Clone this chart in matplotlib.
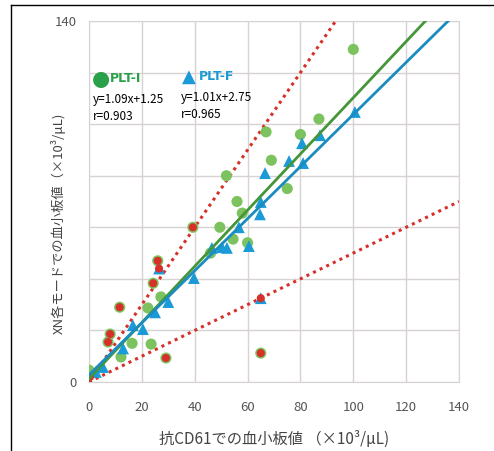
import numpy as np
import matplotlib.pyplot as plt
from matplotlib.lines import Line2D

plt.rcParams['font.family'] = ['Noto Sans CJK JP', 'DejaVu Sans']

# PLT-I (green circles)
plt_i_x = [100, 87, 80, 67, 69, 75, 52, 56, 58, 49.5, 54.5, 60, 46, 39.3, 26, 27.2, 11.6, 22.3,
           16.3, 23.5, 8, 7.2, 12.1, 29.1, 0, 65, 24.3]
plt_i_y = [129, 102, 96, 97, 86, 75, 80, 70, 65.5, 60, 55.4, 54, 50, 60, 47, 33, 29, 28.7,
           15, 14.7, 18.6, 15.5, 9.7, 9.3, 4.6, 11.2, 38.3]

# PLT-F (blue triangles)
plt_f_x = [100.6, 87.4, 80.6, 75.7, 81, 66.6, 65, 64.7, 56.7, 60.5, 52.2, 50.3, 46.5, 39.7,
           30, 25, 20.4, 16.6, 12.9, 2.6, 5.3, 26.5, 65]
plt_f_y = [104.7, 95.7, 92.6, 85.7, 84.9, 81, 69.8, 65, 60, 52.7, 52, 52.3, 52, 40.3,
           31, 27, 20.5, 22, 13, 3.9, 5.8, 44, 32.5]

# discordant samples (red centres)
red_x = [39.3, 26, 24.3, 11.6, 8, 7.2, 29.1, 65, 0.4, 26.5, 65]
red_y = [60, 47, 38.3, 29, 18.6, 15.5, 9.3, 11.2, 2, 44, 32.5]

fit_i = (1.09, 1.25)
fit_f = (1.01, 2.75)
limit_slopes = [1.5, 0.5]

ticks = list(range(0, 141, 20))
ytick_labels = ["0", "", "", "", "", "", "", "140"]

fig = plt.figure(figsize=(4.94, 4.51), dpi=100)
ax = fig.add_axes([89 / 494, 1 - 382 / 451, 370 / 494, 361 / 451])

green = "#7cc35f"
green_line = "#459639"
blue = "#1a9ad6"
blue_line = "#1a8cc0"
red = "#d7302a"

xs = np.array([0, 140])
for s in limit_slopes:
    ax.plot(xs, s * xs, linestyle=(0, (1, 1.4)), color=red, linewidth=2.2, zorder=3)

ax.scatter(plt_i_x, plt_i_y, s=64, color=green, edgecolors="none", zorder=4)
ax.scatter(plt_f_x, plt_f_y, s=72, marker="^", color=blue, edgecolors="none", zorder=5)
ax.scatter(red_x, red_y, s=34, color=red, edgecolors="none", zorder=6)

ax.plot(xs, fit_i[0] * xs + fit_i[1], color=green_line, linewidth=2, zorder=7)
ax.plot(xs, fit_f[0] * xs + fit_f[1], color=blue_line, linewidth=2, zorder=7)

ax.set_xlim(0, 140)
ax.set_ylim(0, 140)
ax.set_xticks(ticks)
ax.set_yticks(ticks)
ax.set_yticklabels(ytick_labels)
ax.grid(True, color="#d9d2d2", linewidth=1)
ax.set_axisbelow(True)
for sp in ax.spines.values():
    sp.set_color("#d9d2d2")
ax.tick_params(length=0, labelsize=9.5, labelcolor="#555555")
ax.tick_params(axis="x", pad=14)
ax.tick_params(axis="y", pad=9)

ax.set_xlabel("抗CD61での血小板値 （×10³/μL)", fontsize=11, color="#444444", labelpad=12)
ax.set_ylabel("XN各モードでの血小板値（×10³/μL)", fontsize=9.5, color="#444444")
ax.yaxis.set_label_coords(-0.062, 0.44)

# legend-like annotations
fig.text(92 / 494, 1 - 79 / 451, "●", color="#2aa04a", fontsize=15, va="center",
         family=["DejaVu Sans"])
fig.text(110 / 494, 1 - 79 / 451, "PLT-I", color="#2aa04a", fontsize=9, fontweight="bold",
         va="center", family=["DejaVu Sans"])
fig.text(93 / 494, 1 - 100 / 451, "y=1.09x+1.25", fontsize=8.5, va="center")
fig.text(93 / 494, 1 - 116 / 451, "r=0.903", fontsize=8.5, va="center")
fig.text(182 / 494, 1 - 77 / 451, "▲", color=blue, fontsize=13, va="center",
         family=["DejaVu Sans"])
fig.text(199 / 494, 1 - 77 / 451, "PLT-F", color=blue, fontsize=9, fontweight="bold",
         va="center", family=["DejaVu Sans"])
fig.text(181 / 494, 1 - 98 / 451, "y=1.01x+2.75", fontsize=8.5, va="center")
fig.text(181 / 494, 1 - 115 / 451, "r=0.965", fontsize=8.5, va="center")

# outer frame (top and left only)
fig.add_artist(Line2D([11 / 494, 1], [1 - 5 / 451, 1 - 5 / 451], color="black", linewidth=1))
fig.add_artist(Line2D([11 / 494, 11 / 494], [0, 1 - 5 / 451], color="black", linewidth=1))

fig.savefig("out.png", dpi=100)
